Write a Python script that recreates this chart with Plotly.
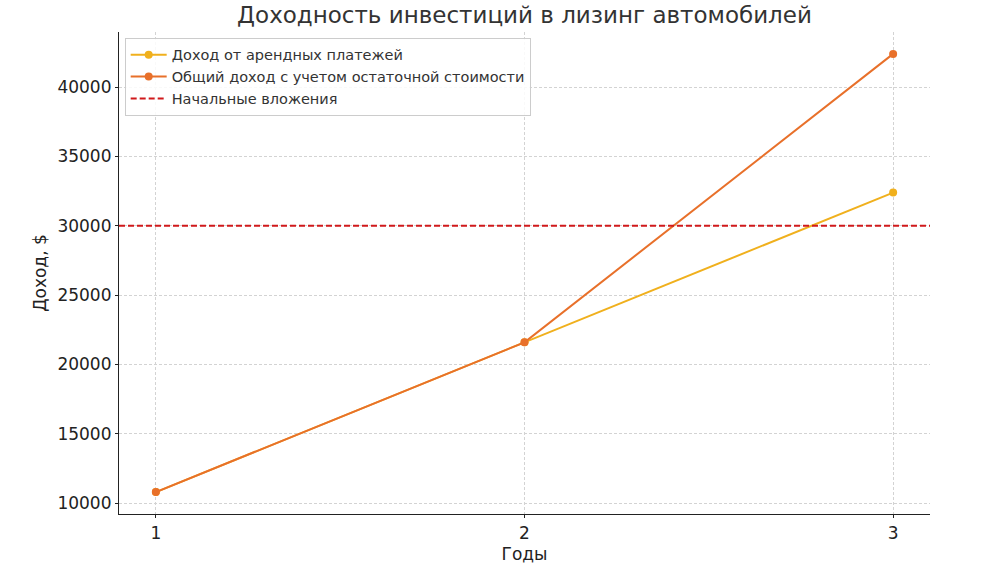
import plotly.graph_objects as go

years = [1, 2, 3]
rent_income = [10800, 21600, 32400]
total_income = [10800, 21600, 42400]
initial_investment = 30000
x_ticks = [1, 2, 3]
y_ticks = [10000, 15000, 20000, 25000, 30000, 35000, 40000]

fig = go.Figure()
fig.add_trace(go.Scatter(x=years, y=rent_income, mode="lines+markers",
                         name="Доход от арендных платежей",
                         line=dict(color="#f0b01d", width=2),
                         marker=dict(size=8, color="#f0b01d")))
fig.add_trace(go.Scatter(x=years, y=total_income, mode="lines+markers",
                         name="Общий доход с учетом остаточной стоимости",
                         line=dict(color="#e8702a", width=2),
                         marker=dict(size=8, color="#e8702a")))
fig.add_trace(go.Scatter(x=[0.9, 3.1], y=[initial_investment, initial_investment], mode="lines",
                         name="Начальные вложения",
                         line=dict(color="#d0191b", width=2, dash="6px,3px")))

fig.update_layout(
    width=983, height=564,
    margin=dict(l=119, r=53, t=32, b=50),
    paper_bgcolor="white", plot_bgcolor="white",
    font=dict(family="DejaVu Sans", color="#222222"),
    title=dict(text="Доходность инвестиций в лизинг автомобилей", x=0.5, xref="paper",
               xanchor="center", y=0.973, yanchor="middle",
               font=dict(size=23, color="#333333")),
    legend=dict(x=0.007, y=0.988, xanchor="left", yanchor="top",
                bgcolor="rgba(255,255,255,0.85)", bordercolor="#cccccc", borderwidth=1,
                font=dict(size=14.5, color="#333333"), tracegroupgap=0, itemwidth=36),
    showlegend=True,
)
fig.update_xaxes(range=[0.9, 3.1], tickvals=x_ticks, ticktext=[str(v) for v in x_ticks],
                 showline=True, linecolor="#222222", linewidth=1.2,
                 ticks="outside", ticklen=3, tickcolor="#222222",
                 showgrid=True, gridcolor="#d3d3d3", griddash="3px,2px", gridwidth=1,
                 zeroline=False, tickfont=dict(size=17), automargin=False,
                 title=dict(text="Годы", font=dict(size=17), standoff=6))
fig.update_yaxes(range=[9220, 43980], tickvals=y_ticks, tickformat="d",
                 showline=True, linecolor="#222222", linewidth=1.2,
                 ticks="outside", ticklen=3, tickcolor="#222222",
                 showgrid=True, gridcolor="#d3d3d3", griddash="3px,2px", gridwidth=1,
                 zeroline=False, tickfont=dict(size=17), automargin=False,
                 title=dict(text="Доход, $", font=dict(size=17), standoff=6))

fig.write_html("out.html")
